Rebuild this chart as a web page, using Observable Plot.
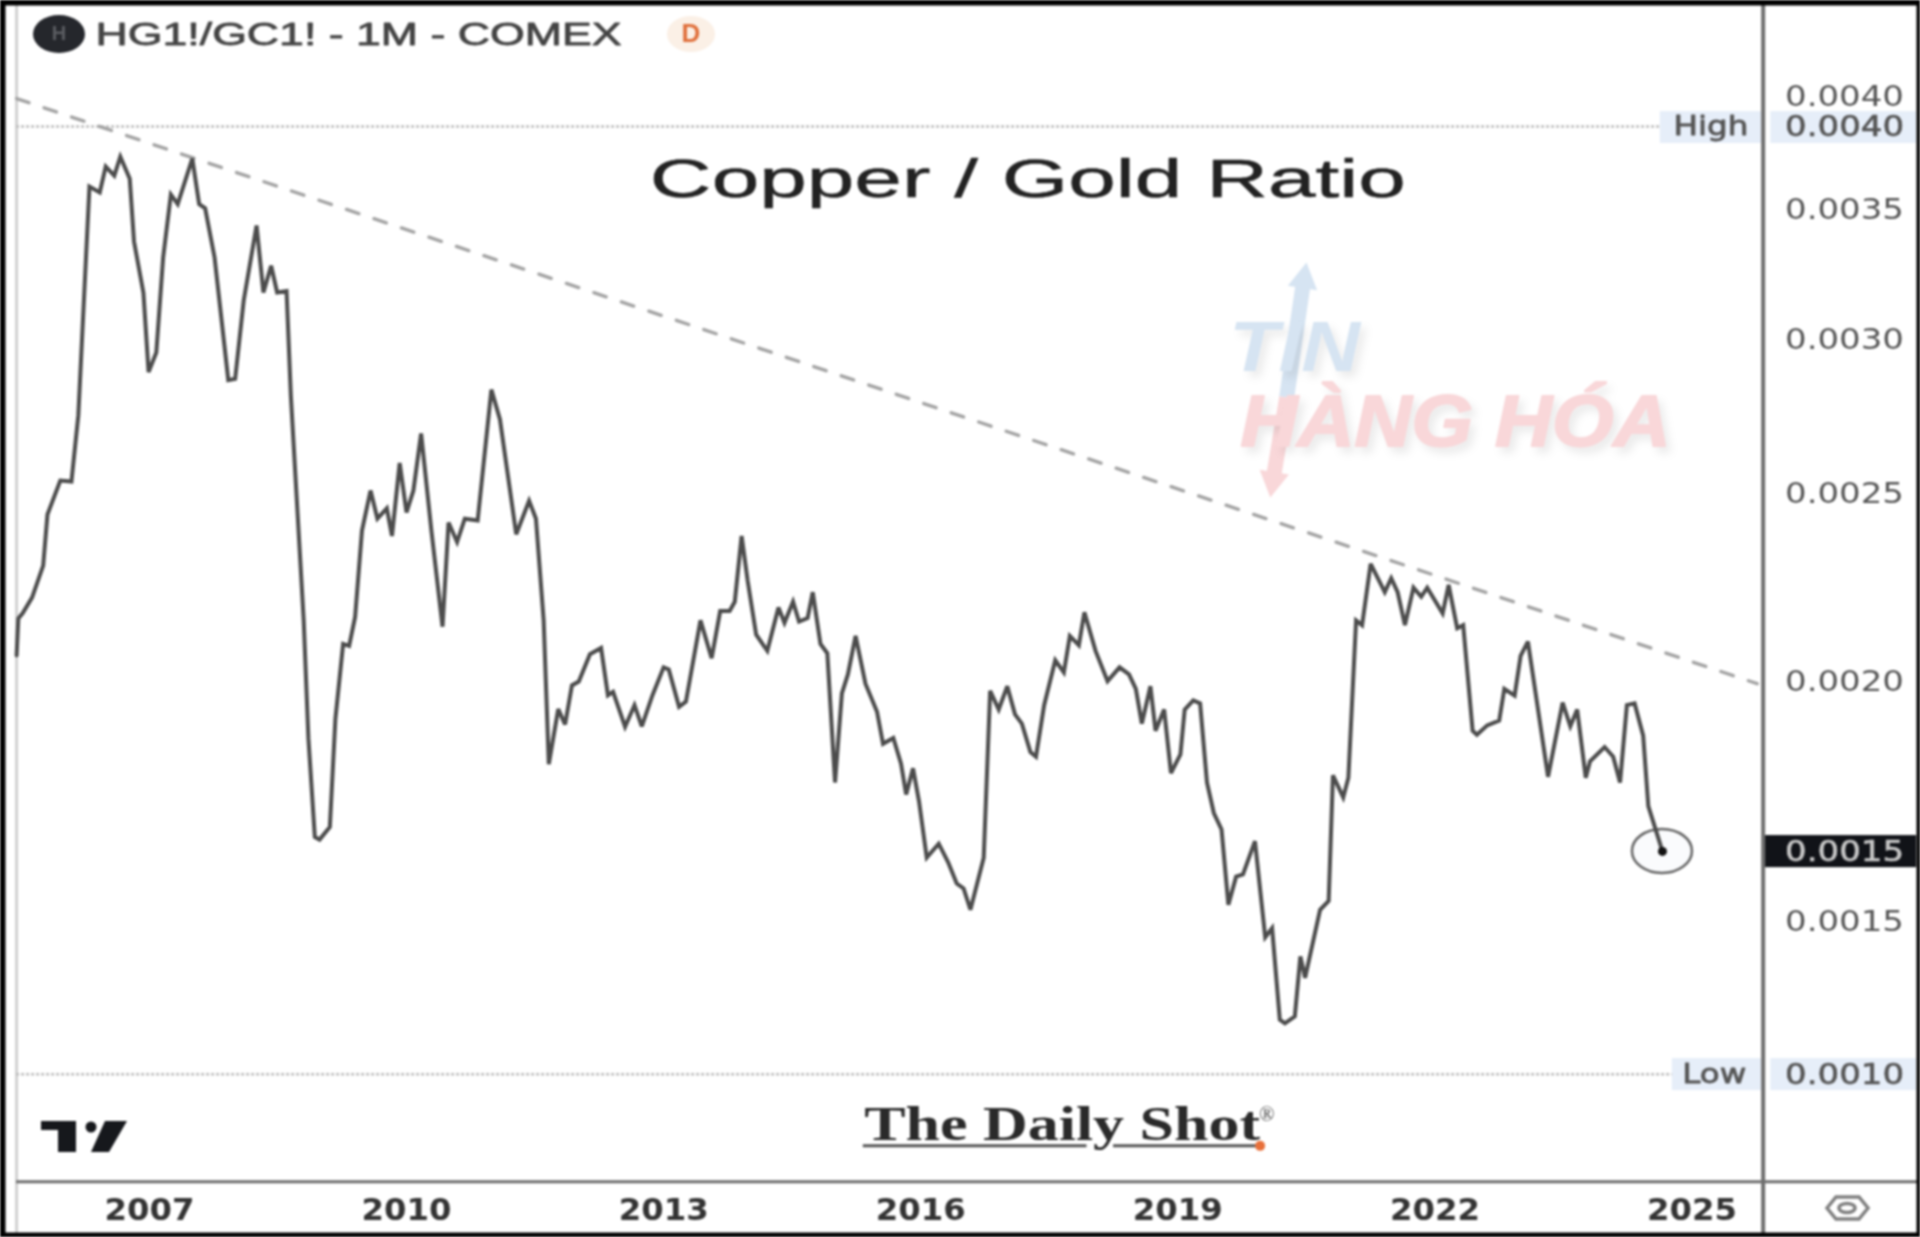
<!DOCTYPE html>
<html>
<head>
<meta charset="utf-8">
<script src="https://cdn.jsdelivr.net/npm/d3@7"></script>
<script src="https://cdn.jsdelivr.net/npm/@observablehq/plot@0.6"></script>
<style>
html,body{margin:0;padding:0;background:#fff}
svg{display:block;filter:blur(1px)}
.wm{filter:drop-shadow(5px 6px 4px rgba(0,0,0,.08))}
</style>
</head>
<body>
<div id="chart"></div>
<script>
const years = [2005.45,2005.47,2005.52,2005.63,2005.76,2005.81,2005.96,2006.09,2006.17,2006.30,2006.42,2006.49,2006.59,2006.66,2006.77,2006.82,2006.93,2006.99,2007.08,2007.16,2007.25,2007.33,2007.50,2007.58,2007.65,2007.76,2007.92,2008.00,2008.10,2008.25,2008.33,2008.42,2008.49,2008.60,2008.65,2008.80,2008.855,2008.93,2008.985,2009.105,2009.17,2009.26,2009.33,2009.40,2009.48,2009.58,2009.66,2009.77,2009.83,2009.92,2010.00,2010.08,2010.17,2010.29,2010.42,2010.49,2010.59,2010.68,2010.83,2010.99,2011.09,2011.28,2011.43,2011.51,2011.60,2011.66,2011.77,2011.85,2011.93,2012.01,2012.14,2012.27,2012.35,2012.41,2012.55,2012.66,2012.745,2012.87,2013.00,2013.06,2013.18,2013.26,2013.43,2013.56,2013.66,2013.77,2013.83,2013.91,2013.98,2014.08,2014.21,2014.34,2014.41,2014.51,2014.58,2014.68,2014.74,2014.83,2014.91,2015.00,2015.08,2015.15,2015.24,2015.355,2015.49,2015.56,2015.68,2015.77,2015.83,2015.91,2015.98,2016.07,2016.21,2016.32,2016.42,2016.50,2016.58,2016.735,2016.81,2016.91,2017.01,2017.10,2017.18,2017.28,2017.345,2017.44,2017.57,2017.67,2017.74,2017.845,2017.91,2018.04,2018.18,2018.32,2018.43,2018.51,2018.58,2018.68,2018.74,2018.84,2018.92,2019.03,2019.08,2019.18,2019.26,2019.34,2019.42,2019.51,2019.59,2019.68,2019.76,2019.90,2020.02,2020.10,2020.19,2020.25,2020.365,2020.43,2020.485,2020.66,2020.76,2020.81,2020.93,2020.99,2021.08,2021.15,2021.25,2021.415,2021.49,2021.565,2021.65,2021.75,2021.84,2021.91,2022.09,2022.16,2022.26,2022.33,2022.44,2022.49,2022.61,2022.75,2022.81,2022.93,2023.00,2023.085,2023.32,2023.49,2023.58,2023.66,2023.76,2023.81,2023.98,2024.08,2024.16,2024.24,2024.33,2024.43,2024.49,2024.655];
const ratio = [0.002062,0.002154,0.002167,0.002208,0.002293,0.002436,0.002536,0.002533,0.002739,0.003591,0.003566,0.003677,0.003638,0.00372,0.003625,0.003365,0.003166,0.002883,0.002951,0.003302,0.003557,0.003517,0.003712,0.003517,0.0035,0.003302,0.002856,0.00286,0.003138,0.003429,0.003168,0.00327,0.003168,0.003173,0.002804,0.002149,0.001869,0.001663,0.001658,0.001683,0.001913,0.00209,0.002085,0.002158,0.00239,0.002506,0.002424,0.002454,0.002375,0.002589,0.002442,0.002506,0.002681,0.00239,0.002133,0.002413,0.002358,0.002424,0.002419,0.002824,0.002726,0.00238,0.002476,0.002424,0.002149,0.001813,0.001935,0.0019,0.00199,0.001999,0.002065,0.00208,0.001967,0.001975,0.001895,0.001944,0.001896,0.001967,0.002033,0.002028,0.00194,0.001952,0.002149,0.002055,0.002173,0.002173,0.002197,0.002375,0.002253,0.002113,0.002073,0.002182,0.002143,0.002197,0.002146,0.002155,0.002222,0.00209,0.002067,0.001774,0.001971,0.002016,0.00211,0.001994,0.001929,0.001857,0.00187,0.001814,0.001749,0.001804,0.001735,0.001623,0.00165,0.001614,0.001574,0.001565,0.001526,0.001623,0.001977,0.001934,0.001988,0.001923,0.001902,0.001839,0.001829,0.001944,0.00205,0.002021,0.00211,0.002087,0.00217,0.002073,0.002,0.002033,0.002016,0.001982,0.001902,0.001988,0.001886,0.001934,0.001794,0.001834,0.001934,0.001955,0.001948,0.001774,0.001711,0.001678,0.001535,0.001587,0.001591,0.001655,0.001477,0.001493,0.00134,0.001334,0.001345,0.001444,0.001408,0.001526,0.001542,0.001789,0.001743,0.001784,0.002149,0.002137,0.002298,0.002222,0.002259,0.002222,0.002137,0.002234,0.00221,0.002234,0.002167,0.002241,0.002129,0.002137,0.001886,0.001877,0.001898,0.001909,0.001982,0.001966,0.002061,0.002096,0.001786,0.00195,0.001896,0.001934,0.001784,0.001819,0.00185,0.001829,0.001774,0.001944,0.001948,0.001875,0.001725,0.001635];

const trendYears = [2005.45, 2025.76];
const trendValues = [0.003985, 0.001994];
const yTicks = [0.0040, 0.0035, 0.0030, 0.0025, 0.0020, 0.001506];
const xTicks = [2007, 2010, 2013, 2016, 2019, 2022, 2025];
const highValue = 0.003855, lowValue = 0.001256, lastValue = 0.001635, lastYear = 2024.655;
const lineData = years.map((t, i) => ({t, v: ratio[i]}));
const trendData = trendYears.map((t, i) => ({t, v: trendValues[i]}));

const textWidths = new Map([
  ["Copper / Gold Ratio", 756], ["HG1!/GC1! - 1M - COMEX", 526], ["High", 75], ["Low", 64],
  ["The Daily Shot", 396], ["TIN", 131], ["HÀNG HÓA", 430], ["0.0040", 119], ["0.0035", 119],
  ["0.0030", 119], ["0.0025", 119], ["0.0020", 119], ["0.0015", 119], ["0.0010", 119],
  ["2007", 90], ["2010", 90], ["2013", 90], ["2016", 90], ["2019", 90], ["2022", 90], ["2025", 90]
]);

const at = (text, x, y, o) => Plot.text([text], {x: [x], y: [y], text: d => d, lineAnchor: "middle", ...o});
const svgEl = markup => () => {
  const g = document.createElementNS("http://www.w3.org/2000/svg", "g");
  g.innerHTML = markup;
  return g;
};
const tickStyle = {fontSize: 29, fill: "#555", stroke: "#555", strokeWidth: 0.6};

const chart = Plot.plot({
  width: 1920,
  height: 1237,
  margin: 0,
  style: {background: "#fff", fontFamily: "'DejaVu Sans'", color: "#444"},
  x: {domain: [2005.262, 2027.666], range: [0, 1920]},
  y: {type: "log", domain: [0.0010354, 0.0044755], range: [1237, 0]},
  marks: [
    // label boxes
    Plot.rect([0], {x1: 2024.63, x2: 2025.81, y1: 0.003924, y2: 0.003779, fill: "#e6eef9"}),
    Plot.rect([0], {x1: 2025.92, x2: 2027.62, y1: 0.003924, y2: 0.003779, fill: "#e6eef9"}),
    Plot.rect([0], {x1: 2024.77, x2: 2025.81, y1: 0.0012795, y2: 0.001232, fill: "#e6eef9"}),
    Plot.rect([0], {x1: 2025.92, x2: 2027.62, y1: 0.0012795, y2: 0.001232, fill: "#e6eef9"}),
    Plot.rect([0], {x1: 2025.83, x2: 2027.62, y1: 0.001666, y2: 0.001604, fill: "#111318"}),
    // frame lines
    Plot.ruleX([2005.45], {stroke: "#d0d0d0", strokeWidth: 3}),
    Plot.ruleX([2025.83], {stroke: "#6e6e6e", strokeWidth: 4}),
    Plot.ruleY([0.001106], {x1: 2005.45, x2: 2027.66, stroke: "#6e6e6e", strokeWidth: 3}),
    // high / low
    Plot.ruleY([highValue], {x1: 2005.45, x2: 2024.63, stroke: "#bdbdbd", strokeWidth: 2.5, strokeDasharray: "3 2"}),
    Plot.ruleY([lowValue], {x1: 2005.45, x2: 2024.77, stroke: "#bdbdbd", strokeWidth: 2.5, strokeDasharray: "3 2"}),
    // watermark
    Plot.line([{t: 2020.47, v: 0.003217}, {t: 2020.27, v: 0.002798}], {x: "t", y: "v", stroke: "#d6e4f2", strokeWidth: 15, strokeLinecap: "butt"}),
    Plot.line([{t: 2020.27, v: 0.002798}, {t: 2020.11, v: 0.002536}], {x: "t", y: "v", stroke: "#f9d7d9", strokeWidth: 15, strokeLinecap: "butt"}),
    Plot.dot([0], {x: [2020.47], y: [0.003217], symbol: "triangle", r: 11, fill: "#d6e4f2", rotate: 9}),
    Plot.dot([0], {x: [2020.11], y: [0.002536], symbol: "triangle", r: 11, fill: "#f9d7d9", rotate: 189}),
    at("TIN", 2020.36, 0.002965, {fontSize: 70, fontWeight: "bold", fontStyle: "italic", fontFamily: "Liberation Sans", fill: "#d6e4f2", className: "wm"}),
    at("HÀNG HÓA", 2022.24, 0.002716, {fontSize: 72, fontWeight: "bold", fontStyle: "italic", fontFamily: "Liberation Sans", fill: "#f9d7d9", stroke: "#f9d7d9", strokeWidth: 2, className: "wm"}),
    // trend and price
    Plot.line(trendData, {x: "t", y: "v", stroke: "#a3a3a3", strokeWidth: 3.4, strokeDasharray: "13 16"}),
    (i, s) => {
      const e = document.createElementNS("http://www.w3.org/2000/svg", "ellipse");
      e.setAttribute("cx", s.x(lastYear)); e.setAttribute("cy", s.y(lastValue));
      e.setAttribute("rx", 30); e.setAttribute("ry", 22);
      e.setAttribute("fill", "#fafbfd"); e.setAttribute("stroke", "#666"); e.setAttribute("stroke-width", 2.5);
      return e;
    },
    Plot.line(lineData, {x: "t", y: "v", stroke: "#4c4c4c", strokeWidth: 4, strokeLinejoin: "miter", strokeMiterlimit: 3}),
    Plot.dot([0], {x: [lastYear], y: [lastValue], r: 4.5, fill: "#111"}),
    // axes
    Plot.axisY({anchor: "right", ticks: yTicks, tickFormat: d => d.toFixed(4), tickSize: 0, tickPadding: 0, dx: -76, dy: 1, textAnchor: "middle", lineAnchor: "middle", label: null, ...tickStyle}),
    Plot.axisX({anchor: "bottom", ticks: xTicks, tickFormat: d => String(d), tickSize: 0, tickPadding: 0, dy: -27, lineAnchor: "middle", fontSize: 30, fontWeight: "bold", fill: "#333", label: null}),
    // price-scale labels
    at("0.0040", 2026.78, highValue, tickStyle),
    at("0.0010", 2026.78, lowValue, tickStyle),
    at("0.0015", 2026.78, lastValue, {fontSize: 29, fill: "#c8c8c8", stroke: "#c8c8c8", strokeWidth: 0.6}),
    at("High", 2025.22, highValue, {fontSize: 27, fill: "#555", stroke: "#555", strokeWidth: 0.8}),
    at("Low", 2025.26, lowValue, {fontSize: 27, fill: "#555", stroke: "#555", strokeWidth: 0.8}),
    // titles
    at("Copper / Gold Ratio", 2017.25, 0.003621, {fontSize: 54, fontFamily: "Liberation Sans", fill: "#222", stroke: "#222", strokeWidth: 0.5}),
    Plot.text(["HG1!/GC1! - 1M - COMEX"], {frameAnchor: "top-left", dx: 95, dy: 34, lineAnchor: "middle", textAnchor: "start", fontSize: 32, fontFamily: "Liberation Sans", fill: "#444", stroke: "#444", strokeWidth: 0.8}),
    svgEl(`<ellipse cx="59" cy="34" rx="26" ry="19" fill="#25272c"/>
      <text x="59" y="35" text-anchor="middle" dominant-baseline="middle" font-size="20" font-family="Liberation Sans" font-weight="bold" fill="#5b5d62">H</text>
      <ellipse cx="691" cy="34" rx="24" ry="18" fill="#fbf0e6"/>
      <text x="691" y="35" text-anchor="middle" dominant-baseline="middle" font-size="26" font-family="Liberation Sans" font-weight="bold" fill="#e0703c">D</text>
      <path d="M41 1121H76V1152H58V1130H41Z M105 1121H127L109 1152H91Z" fill="#16181c"/>
      <circle cx="91" cy="1127" r="5.5" fill="#16181c"/>
      <path d="M1827 1208L1836 1197H1859L1868 1208L1859 1219H1836Z" fill="none" stroke="#808080" stroke-width="3.5"/>
      <ellipse cx="1847" cy="1208" rx="8" ry="4.5" fill="none" stroke="#808080" stroke-width="3.5"/>`),
    // Daily Shot logo
    at("The Daily Shot", 2017.65, 0.0011835, {fontSize: 48, fontWeight: "bold", fontFamily: "Liberation Serif", fill: "#2a2a2a"}),
    at("®", 2020.04, 0.001198, {fontSize: 20, fontFamily: "Liberation Serif", fill: "#444"}),
    Plot.ruleY([0.001154], {x1: 2015.33, x2: 2017.94, stroke: "#555", strokeWidth: 3}),
    Plot.ruleY([0.001154], {x1: 2018.25, x2: 2019.96, stroke: "#555", strokeWidth: 3}),
    Plot.dot([0], {x: [2019.96], y: [0.001154], r: 5, fill: "#e8703a"}),
    // outer border
    Plot.ruleY([0.0044755], {stroke: "#000", strokeWidth: 10}),
    Plot.ruleY([0.0010354], {stroke: "#000", strokeWidth: 10}),
    Plot.ruleX([2005.262], {stroke: "#000", strokeWidth: 10}),
    Plot.ruleX([2027.666], {stroke: "#000", strokeWidth: 8})
  ]
});

chart.querySelectorAll("text").forEach(t => {
  const w = textWidths.get(t.textContent);
  if (w) { t.setAttribute("textLength", w); t.setAttribute("lengthAdjust", "spacingAndGlyphs"); }
});
document.getElementById("chart").append(chart);
</script>
</body>
</html>
